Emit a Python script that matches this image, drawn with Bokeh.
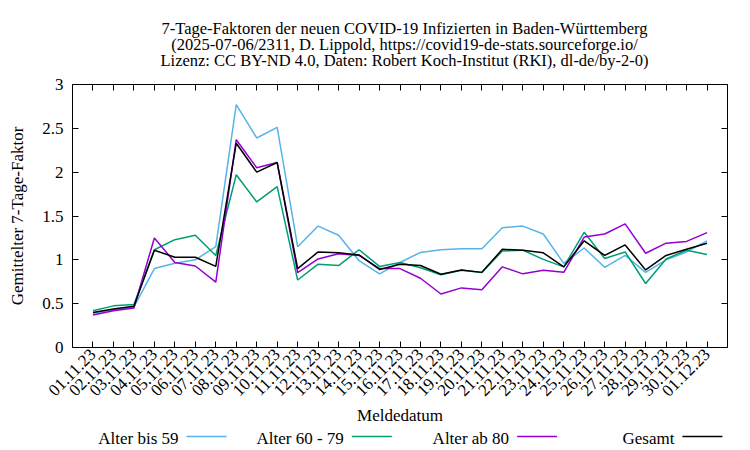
import math
from bokeh.plotting import figure
from bokeh.layouts import column
from bokeh.models import Label, Arrow, LinearAxis, FixedTicker, Range1d
from bokeh.embed import file_html
from bokeh.resources import INLINE

dates = ["01.11.23", "02.11.23", "03.11.23", "04.11.23", "05.11.23", "06.11.23",
         "07.11.23", "08.11.23", "09.11.23", "10.11.23", "11.11.23", "12.11.23",
         "13.11.23", "14.11.23", "15.11.23", "16.11.23", "17.11.23", "18.11.23",
         "19.11.23", "20.11.23", "21.11.23", "22.11.23", "23.11.23", "24.11.23",
         "25.11.23", "26.11.23", "27.11.23", "28.11.23", "29.11.23", "30.11.23",
         "01.12.23"]

alter_bis_59 = [0.39, 0.43, 0.46, 0.90, 0.96, 1.00, 1.15, 2.77, 2.39, 2.51, 1.15,
                1.385, 1.28, 0.99, 0.84, 0.97, 1.085, 1.115, 1.127, 1.127, 1.367,
                1.385, 1.295, 0.96, 1.135, 0.915, 1.05, 0.857, 1.0, 1.09, 1.217]
alter_60_79 = [0.42, 0.475, 0.49, 1.115, 1.23, 1.28, 1.05, 1.97, 1.66, 1.835, 0.77,
               0.95, 0.935, 1.115, 0.925, 0.97, 0.91, 0.83, 0.88, 0.855, 1.10,
               1.11, 1.005, 0.92, 1.315, 1.015, 1.09, 0.73, 1.01, 1.11, 1.06]
alter_ab_80 = [0.37, 0.42, 0.45, 1.25, 0.97, 0.93, 0.745, 2.37, 2.05, 2.11, 0.855,
               1.01, 1.07, 1.05, 0.90, 0.90, 0.79, 0.61, 0.68, 0.66, 0.92,
               0.84, 0.88, 0.857, 1.26, 1.295, 1.41, 1.075, 1.19, 1.21, 1.31]
gesamt = [0.40, 0.44, 0.47, 1.11, 1.03, 1.03, 0.925, 2.33, 2.0, 2.11, 0.90,
          1.09, 1.08, 1.056, 0.89, 0.95, 0.935, 0.835, 0.885, 0.857, 1.12,
          1.11, 1.08, 0.92, 1.217, 1.05, 1.17, 0.885, 1.05, 1.12, 1.19]

series_names = ["Alter bis 59", "Alter 60 - 79", "Alter ab 80", "Gesamt"]
series_colors = ["#56b4e9", "#009e73", "#9400d3", "#000000"]
series_values = [alter_bis_59, alter_60_79, alter_ab_80, gesamt]

title_lines = [
    "7-Tage-Faktoren der neuen COVID-19 Infizierten in Baden-Württemberg",
    "(2025-07-06/2311, D. Lippold, https://covid19-de-stats.sourceforge.io/",
    "Lizenz: CC BY-ND 4.0, Daten: Robert Koch-Institut (RKI), dl-de/by-2-0)",
]
y_ticks = [0, 0.5, 1, 1.5, 2, 2.5, 3]

FONT = "Liberation Serif"
FS = "17px"
FS_TITLE = "16.5px"

xs = list(range(len(dates)))


def strip(height):
    f = figure(width=734, height=height, output_backend="svg",
               toolbar_location=None, x_range=Range1d(0, 1), y_range=Range1d(0, 1),
               x_axis_location=None, y_axis_location=None,
               min_border_left=72, min_border_right=7, min_border_top=0,
               min_border_bottom=0)
    f.outline_line_color = None
    f.grid.visible = False
    f.background_fill_color = "white"
    f.border_fill_color = "white"
    return f


# ---- title strip (frame spans x 72..727, y 0..70) ----
head = strip(70)
for i, t in enumerate(title_lines):
    head.add_layout(Label(x=332, y=42 - 16 * i, x_units="screen", y_units="screen",
                          text=t, text_font=FONT, text_font_size=FS_TITLE,
                          text_align="center", text_baseline="middle",
                          text_color="black"))

# ---- main chart ----
p = figure(width=734, height=358, output_backend="svg", toolbar_location=None,
           x_range=Range1d(-1, len(dates)), y_range=Range1d(0, 3),
           x_axis_location=None, y_axis_location=None,
           min_border_left=72, min_border_right=7, min_border_top=14,
           min_border_bottom=77)
p.outline_line_color = "black"
p.outline_line_width = 1
p.grid.visible = False
p.background_fill_color = "white"
p.border_fill_color = "white"

for name, col, vals in zip(series_names, series_colors, series_values):
    p.line(xs, vals, line_color=col, line_width=1.5)


def style_axis(ax):
    ax.axis_line_color = None
    ax.major_tick_in = 6
    ax.major_tick_out = 0
    ax.minor_tick_line_color = None
    ax.major_tick_line_color = "black"
    ax.major_label_text_font = FONT
    ax.major_label_text_font_size = FS
    ax.major_label_text_color = "black"
    ax.axis_label_text_font = FONT
    ax.axis_label_text_font_size = FS
    ax.axis_label_text_font_style = "normal"
    ax.axis_label_text_color = "black"


xb = LinearAxis(ticker=FixedTicker(ticks=xs),
                major_label_overrides={i: d for i, d in enumerate(dates)},
                axis_label="Meldedatum")
style_axis(xb)
xb.major_label_orientation = math.pi / 4
xb.major_label_standoff = 4
xb.axis_label_standoff = 2
p.add_layout(xb, "below")

xt = LinearAxis(ticker=FixedTicker(ticks=xs),
                major_label_overrides={i: "" for i in xs})
style_axis(xt)
xt.major_label_standoff = 0
xt.major_label_text_font_size = "2px"
p.add_layout(xt, "above")

yl = LinearAxis(ticker=FixedTicker(ticks=y_ticks),
                major_label_overrides={0: "0", 1: "1", 2: "2", 3: "3"},
                axis_label="Gemittelter 7-Tage-Faktor")
style_axis(yl)
yl.major_label_standoff = 9
yl.axis_label_standoff = 12
p.add_layout(yl, "left")

yr = LinearAxis(ticker=FixedTicker(ticks=y_ticks),
                major_label_overrides={t: "" for t in y_ticks})
style_axis(yr)
yr.major_label_standoff = 0
yr.major_label_text_font_size = "2px"
p.add_layout(yr, "right")

# ---- legend strip: text right-aligned, then sample line ----
leg = strip(22)
for i, (name, col) in enumerate(zip(series_names, series_colors)):
    x0 = 114 + 165.3 * i
    leg.add_layout(Label(x=x0 - 8, y=12, x_units="screen", y_units="screen",
                         text=name, text_font=FONT, text_font_size=FS,
                         text_align="right", text_baseline="middle",
                         text_color="black"))
    leg.add_layout(Arrow(x_start=x0, y_start=14, x_end=x0 + 40, y_end=14,
                         start_units="screen", end_units="screen", end=None,
                         line_color=col, line_width=1.5))

open("out.html", "w").write(file_html(column(head, p, leg, spacing=0), INLINE))
